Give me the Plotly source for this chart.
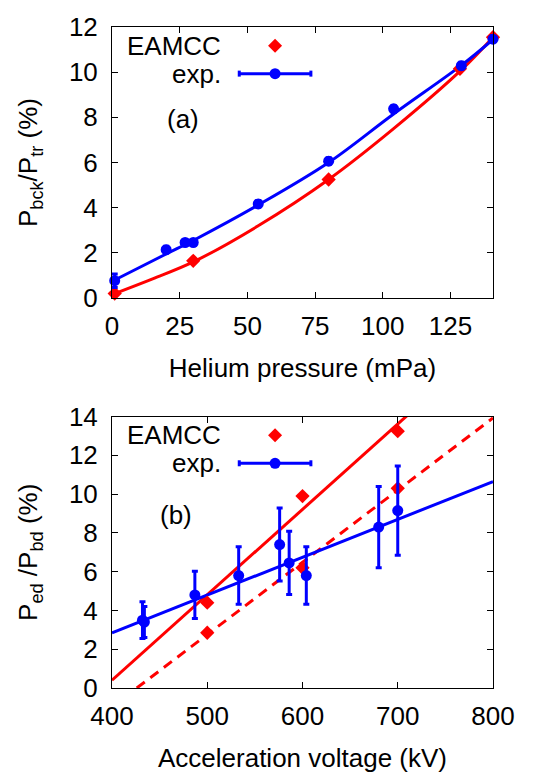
import plotly.graph_objects as go

# ---------------- data: panel (a) ----------------
a_eamcc_x = [1, 30, 80, 128.5, 140.7]
a_eamcc_y = [0.2, 1.65, 5.25, 10.15, 11.55]

a_exp_x = [1, 20, 27, 30, 54, 80, 104, 129, 140.7]
a_exp_y = [0.77, 2.14, 2.46, 2.46, 4.17, 6.06, 8.38, 10.29, 11.46]
a_exp_err = [0.3, 0.15, 0.1, 0.1, 0.15, 0.15, 0.15, 0.15, 0.15]

# fit curves
a_fit_exp_x = [1, 20, 30, 54, 80, 104, 129, 140.7]
a_fit_exp_y = [0.8, 1.95, 2.55, 4.12, 6.0, 8.15, 10.3, 11.45]
a_fit_eamcc_x = [1, 15, 30, 54, 80, 104, 129, 140.7]
a_fit_eamcc_y = [0.2, 0.85, 1.6, 3.2, 5.25, 7.5, 10.1, 11.55]

# ---------------- data: panel (b) ----------------
b_eamcc_x = [500, 500, 600, 600, 700, 700]
b_eamcc_y = [2.85, 4.4, 9.9, 6.2, 13.25, 10.3]

b_exp_x = [432, 434, 487, 533, 576, 586, 604, 680, 700]
b_exp_y = [3.5, 3.4, 4.8, 5.8, 7.4, 6.45, 5.8, 8.3, 9.15]
b_exp_err = [0.95, 0.8, 1.22, 1.48, 1.88, 1.63, 1.48, 2.1, 2.3]

b_fit_solid_x = [400, 720]
b_fit_solid_y = [0.4, 14.5]
b_fit_dash_x = [426, 800]
b_fit_dash_y = [0.0, 13.93]
b_fit_exp_x = [400, 800]
b_fit_exp_y = [2.84, 10.65]

a_xticks = [0, 25, 50, 75, 100, 125]
a_yticks = [0, 2, 4, 6, 8, 10, 12]
b_xticks = [400, 500, 600, 700, 800]
b_yticks = [0, 2, 4, 6, 8, 10, 12, 14]

RED = "#ff0000"
BLUE = "#0000ff"
FONT = "Liberation Sans, Arial, sans-serif"

fig = go.Figure()

# panel (a)
fig.add_trace(go.Scatter(x=a_fit_eamcc_x, y=a_fit_eamcc_y, mode="lines", line=dict(color=RED, width=3, shape="spline"),
                         xaxis="x", yaxis="y", showlegend=False))
fig.add_trace(go.Scatter(x=a_fit_exp_x, y=a_fit_exp_y, mode="lines", line=dict(color=BLUE, width=3, shape="spline"),
                         xaxis="x", yaxis="y", showlegend=False))
fig.add_trace(go.Scatter(x=a_eamcc_x, y=a_eamcc_y, mode="markers", name="EAMCC",
                         marker=dict(symbol="diamond", size=11, color=RED, line=dict(width=0)),
                         xaxis="x", yaxis="y", showlegend=False, cliponaxis=False))
fig.add_trace(go.Scatter(x=a_exp_x, y=a_exp_y, mode="markers", name="exp.",
                         marker=dict(symbol="circle", size=11, color=BLUE, line=dict(width=0)),
                         error_y=dict(type="data", array=a_exp_err, color=BLUE, thickness=3, width=3),
                         xaxis="x", yaxis="y", showlegend=False, cliponaxis=False))

# panel (b)
fig.add_trace(go.Scatter(x=b_fit_solid_x, y=b_fit_solid_y, mode="lines", line=dict(color=RED, width=3),
                         xaxis="x2", yaxis="y2", showlegend=False))
fig.add_trace(go.Scatter(x=b_fit_dash_x, y=b_fit_dash_y, mode="lines", line=dict(color=RED, width=3, dash="10px,7px"),
                         xaxis="x2", yaxis="y2", showlegend=False))
fig.add_trace(go.Scatter(x=b_fit_exp_x, y=b_fit_exp_y, mode="lines", line=dict(color=BLUE, width=3),
                         xaxis="x2", yaxis="y2", showlegend=False))
fig.add_trace(go.Scatter(x=b_eamcc_x, y=b_eamcc_y, mode="markers", name="EAMCC",
                         marker=dict(symbol="diamond", size=11, color=RED, line=dict(width=0)),
                         xaxis="x2", yaxis="y2", showlegend=False))
fig.add_trace(go.Scatter(x=b_exp_x, y=b_exp_y, mode="markers", name="exp.",
                         marker=dict(symbol="circle", size=11, color=BLUE, line=dict(width=0)),
                         error_y=dict(type="data", array=b_exp_err, color=BLUE, thickness=3, width=3),
                         xaxis="x2", yaxis="y2", showlegend=False))

axis_common = dict(showgrid=False, zeroline=False, showline=True, linecolor="black", linewidth=1,
                   mirror="ticks", ticks="inside", ticklen=6, tickwidth=1, tickcolor="black",
                   tickfont=dict(family=FONT, size=26, color="black"))

fig.update_layout(
    width=549, height=779,
    margin=dict(l=112, r=56, t=20, b=86),
    paper_bgcolor="white", plot_bgcolor="white",
    font=dict(family=FONT, size=26, color="black"),
    xaxis=dict(domain=[0, 1], anchor="y", range=[0, 140.7], tickvals=a_xticks, ticklabelstandoff=5,
               title=dict(text="Helium pressure (mPa)", font=dict(size=26), standoff=18), **axis_common),
    yaxis=dict(domain=[0.5899, 1], anchor="x", range=[0, 12], tickvals=a_yticks, ticklabelstandoff=8,
               title=dict(text="P<sub>bck</sub>/P<sub>tr</sub> (%)", font=dict(size=26), standoff=23), **axis_common),
    xaxis2=dict(domain=[0, 1], anchor="y2", range=[400, 800], tickvals=b_xticks, ticklabelstandoff=5,
                title=dict(text="Acceleration voltage (kV)", font=dict(size=26), standoff=18), **axis_common),
    yaxis2=dict(domain=[0, 0.4106], anchor="x2", range=[0, 14], tickvals=b_yticks, ticklabelstandoff=8,
                title=dict(text="P<sub>ed</sub> /P<sub>bd</sub> (%)", font=dict(size=26), standoff=23), **axis_common),
)

# manual gnuplot-style legends and panel labels
annotations = []
shapes = []
for xr, yr, lab, lab_x, lab_y in [("x domain", "y domain", "(a)", 0.186, 0.662),
                                  ("x2 domain", "y2 domain", "(b)", 0.168, 0.638)]:
    annotations.append(dict(xref=xr, yref=yr, x=0.2917, y=0.931, text="EAMCC", showarrow=False,
                            xanchor="right", yanchor="middle", font=dict(size=26)))
    annotations.append(dict(xref=xr, yref=yr, x=0.2917, y=0.828, text="exp.", showarrow=False,
                            xanchor="right", yanchor="middle", font=dict(size=26)))
    annotations.append(dict(xref=xr, yref=yr, x=lab_x, y=lab_y, text=lab, showarrow=False,
                            xanchor="center", yanchor="middle", font=dict(size=26)))
    # diamond sample
    shapes.append(dict(type="path", xref=xr, yref=yr, xsizemode="pixel", ysizemode="pixel",
                       xanchor=0.428, yanchor=0.931, path="M0,7 L7,0 L0,-7 L-7,0 Z",
                       fillcolor=RED, line=dict(width=0)))
    # exp sample: line with caps and circle
    shapes.append(dict(type="line", xref=xr, yref=yr, x0=0.334, x1=0.522, y0=0.828, y1=0.828,
                       line=dict(color=BLUE, width=3)))
    for cx in (0.334, 0.522):
        shapes.append(dict(type="line", xref=xr, yref=yr, xsizemode="pixel", ysizemode="pixel",
                           xanchor=cx, yanchor=0.828, x0=0, x1=0, y0=-3, y1=3,
                           line=dict(color=BLUE, width=3)))
    shapes.append(dict(type="circle", xref=xr, yref=yr, xsizemode="pixel", ysizemode="pixel",
                       xanchor=0.428, yanchor=0.828, x0=-5.5, x1=5.5, y0=-5.5, y1=5.5,
                       fillcolor=BLUE, line=dict(width=0)))

fig.update_layout(annotations=annotations, shapes=shapes)

fig.write_html("out.html")
